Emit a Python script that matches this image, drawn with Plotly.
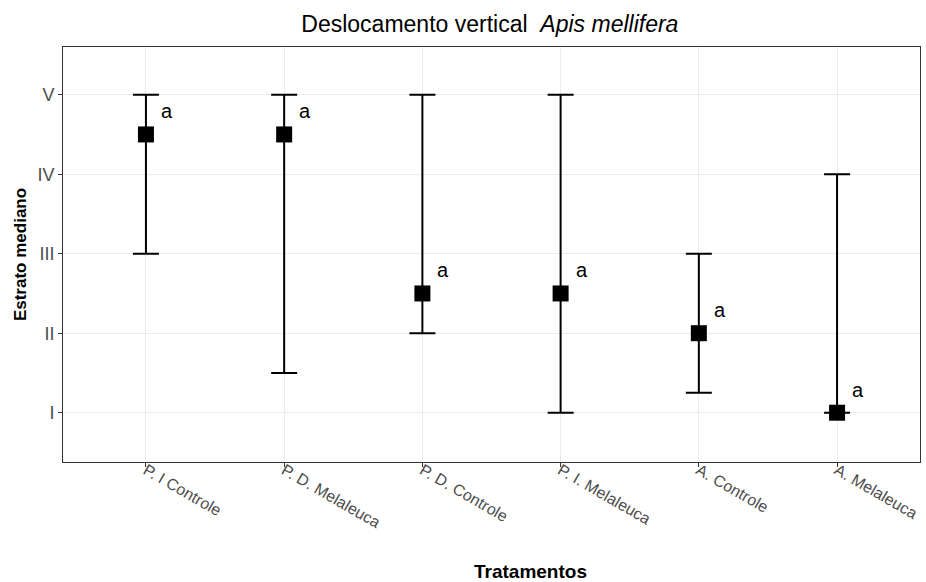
import plotly.graph_objects as go

categories = ["P. I Controle", "P. D. Melaleuca", "P. D. Controle",
              "P. I. Melaleuca", "A. Controle", "A. Melaleuca"]
median = [4.5, 4.5, 2.5, 2.5, 2.0, 1.0]
lower = [3.0, 1.5, 2.0, 1.0, 1.25, 1.0]
upper = [5.0, 5.0, 5.0, 5.0, 3.0, 4.0]
letters = ["a", "a", "a", "a", "a", "a"]
ytick_vals = [1, 2, 3, 4, 5]
ytick_text = ["I", "II", "III", "IV", "V"]

FONT = "Liberation Sans, Arial, sans-serif"

fig = go.Figure()
fig.add_trace(go.Scatter(
    x=categories, y=median, mode="markers",
    marker=dict(symbol="square", size=16, color="black"),
    error_y=dict(type="data", symmetric=False,
                 array=[u - m for u, m in zip(upper, median)],
                 arrayminus=[m - l for m, l in zip(median, lower)],
                 color="black", thickness=2, width=13),
    showlegend=False,
))

for c, m, t in zip(categories, median, letters):
    fig.add_annotation(x=c, y=m, text=t, showarrow=False, xshift=21, yshift=23,
                       font=dict(family=FONT, size=20, color="black"))

fig.add_annotation(text="Tratamentos", xref="paper", yref="paper", x=0.545, y=-0.265,
                   showarrow=False, yanchor="middle",
                   font=dict(family=FONT, size=19, color="black", weight="bold"))

fig.update_layout(
    width=926, height=582,
    margin=dict(l=63, r=6, t=47, b=120),
    paper_bgcolor="white", plot_bgcolor="white",
    title=dict(text="Deslocamento vertical  <i>Apis mellifera</i>", x=0.529, xanchor="center",
               y=0.958, yanchor="middle",
               font=dict(family=FONT, size=23, color="black")),
    font=dict(family=FONT),
)
fig.update_xaxes(
    type="category", range=[-0.6, 5.6], automargin=False,
    tickangle=30, tickfont=dict(family=FONT, size=16, color="#4D4D4D"),
    ticklabelstandoff=-12,
    showgrid=True, gridcolor="#EBEBEB", gridwidth=1,
    showline=True, linecolor="#333333", linewidth=1, mirror=True,
    ticks="outside", ticklen=4, tickcolor="#333333",
)
fig.update_yaxes(
    range=[0.38, 5.6], tickvals=ytick_vals, ticktext=ytick_text, automargin=False,
    tickfont=dict(family=FONT, size=18, color="#4D4D4D"),
    showgrid=True, gridcolor="#EBEBEB", gridwidth=1, zeroline=False,
    showline=True, linecolor="#333333", linewidth=1, mirror=True,
    ticks="outside", ticklen=4, tickcolor="#333333",
    title=dict(text="<b>Estrato mediano</b>", standoff=6,
               font=dict(family=FONT, size=17, color="black")),
)

fig.write_html("out.html")
